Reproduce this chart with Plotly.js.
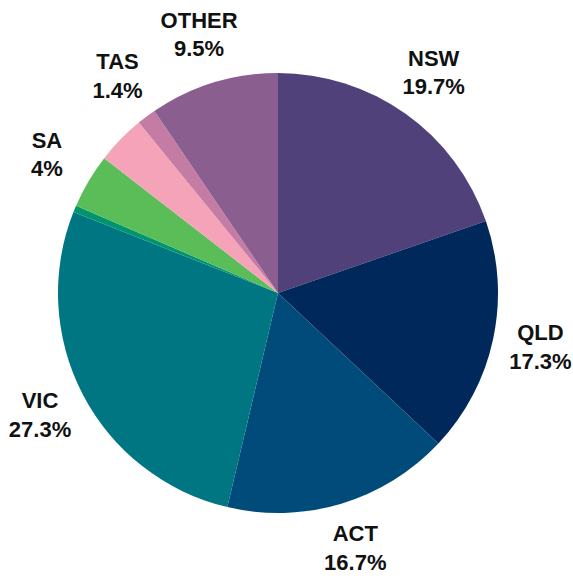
<!DOCTYPE html>
<html><head><meta charset="utf-8">
<script src="https://cdn.plot.ly/plotly-3.0.1.min.js"></script>
<style>html,body{margin:0;padding:0;background:#fff}#chart{width:573px;height:576px}</style>
</head><body><div id="chart"></div>
<script>
const labels = ["NSW","QLD","ACT","VIC","NT","SA","WA","TAS","OTHER"];
const values = [19.7,17.3,16.7,27.3,0.5,4.0,3.6,1.4,9.5];
const showLabel = [true,true,true,true,false,true,false,true,true];
const colors = ["#51417A","#00285A","#004B7A","#007683","#00956E","#5BBD57","#F5A3B8","#C47BA4","#8B5E90"];

const total = values.reduce((a,b)=>a+b,0);
const LABEL_R = 1.22;
let cum = 0;
const lx = [], ly = [], lt = [];
values.forEach((v,i)=>{
  const mid = (cum + v/2) / total * 2 * Math.PI;
  cum += v;
  if (showLabel[i]) {
    lx.push(LABEL_R * Math.sin(mid));
    ly.push(LABEL_R * Math.cos(mid));
    lt.push(labels[i] + "<br>" + values[i] + "%");
  }
});

// layout geometry (pixels)
const W = 573, H = 576, PL = 58, PR = 498, PT = 73, PB = 513;
const R = (PR - PL) / 2;
const font = {family: "Liberation Sans", size: 22, color: "#111", weight: "bold"};
Plotly.newPlot("chart", [{
  type: "pie",
  labels: labels,
  values: values,
  textinfo: "none",
  sort: false,
  direction: "clockwise",
  rotation: 0,
  domain: {x: [PL / W, PR / W], y: [(H - PB) / H, (H - PT) / H]},
  marker: {colors: colors, line: {width: 0}},
  hoverinfo: "none",
  showlegend: false
},{
  type: "scatter",
  mode: "text",
  x: lx, y: ly, text: lt,
  textposition: "middle center",
  textfont: font,
  cliponaxis: false,
  hoverinfo: "none",
  showlegend: false
}], {
  width: W, height: H,
  margin: {l: 0, r: 0, t: 0, b: 0, pad: 0},
  paper_bgcolor: "#fff",
  plot_bgcolor: "rgba(0,0,0,0)",
  xaxis: {range: [-1 - PL / R, 1 + (W - PR) / R], visible: false, fixedrange: true},
  yaxis: {range: [-1 - (H - PB) / R, 1 + PT / R], visible: false, fixedrange: true},
  showlegend: false
}, {displayModeBar: false, staticPlot: true});
</script></body></html>
